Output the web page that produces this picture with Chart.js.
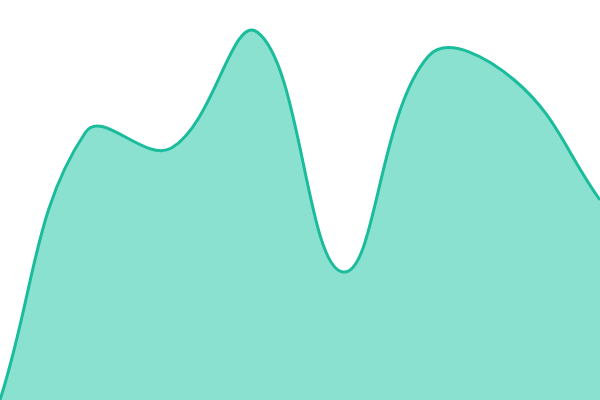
<!DOCTYPE html>
<html>
<head>
<meta charset="utf-8">
<script src="https://cdn.jsdelivr.net/npm/chart.js@4"></script>
<style>
  html, body { margin: 0; padding: 0; background: #fff; }
  #wrap { width: 600px; height: 400px; }
</style>
</head>
<body>
<div id="wrap"><canvas id="myChart"></canvas></div>
<script>
const labels = ['1', '2', '3', '4', '5', '6', '7', '8'];
const values = [0, 67, 63, 92, 32, 86, 80, 50];

document.addEventListener('DOMContentLoaded', () => {
    const ctx = document.getElementById('myChart').getContext('2d');
    new Chart(ctx, {
        type: 'line',
        data: {
            labels: labels,
            datasets: [{
                data: values,
                borderColor: '#1abc9c',
                backgroundColor: 'rgba(22, 196, 160, 0.5)',
                borderWidth: 3,
                fill: true,
                tension: 0.4,
                pointRadius: 0
            }]
        },
        options: {
            responsive: true,
            maintainAspectRatio: false,
            animation: false,
            layout: { padding: 0 },
            plugins: {
                legend: { display: false },
                tooltip: { enabled: false }
            },
            scales: {
                x: { display: false, offset: false },
                y: { display: false, min: 0, max: 100 }
            }
        }
    });
});
</script>
</body>
</html>
